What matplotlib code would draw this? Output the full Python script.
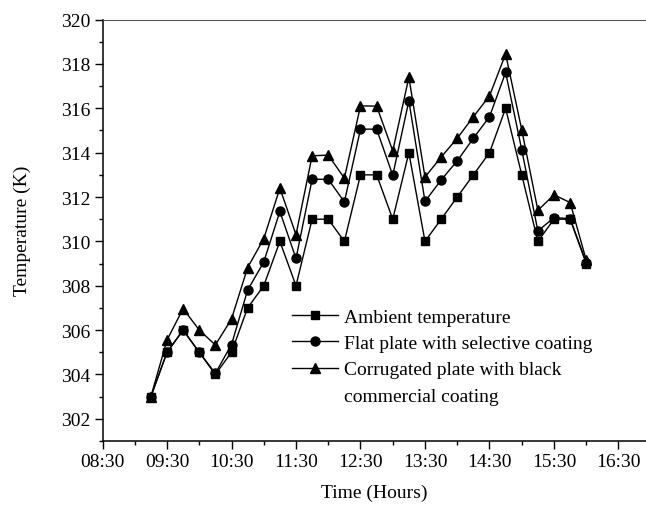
import matplotlib
matplotlib.use('Agg')
import matplotlib.pyplot as plt
from matplotlib.lines import Line2D
from matplotlib.ticker import MultipleLocator, FuncFormatter

plt.rcParams['font.family'] = ['Liberation Serif', 'DejaVu Serif']
plt.rcParams['font.size'] = 14

# time of day in hours, 09:15 -> 16:00 every 15 min
times = [9.25, 9.5, 9.75, 10.0, 10.25, 10.5, 10.75, 11.0, 11.25, 11.5, 11.75, 12.0,
         12.25, 12.5, 12.75, 13.0, 13.25, 13.5, 13.75, 14.0, 14.25, 14.5, 14.75, 15.0,
         15.25, 15.5, 15.75, 16.0]

ambient = [303, 305, 306, 305, 304, 305, 307, 308, 310, 308, 311, 311,
           310, 313, 313, 311, 314, 310, 311, 312, 313, 314, 316, 313,
           310, 311, 311, 309]

flat_selective = [303.0, 305.0, 306.0, 305.0, 304.05, 305.35, 307.8, 309.07, 311.35, 309.23, 312.8, 312.8,
                  311.78, 315.06, 315.06, 312.98, 316.34, 311.8, 312.77, 313.63, 314.65, 315.62, 317.62, 314.13,
                  310.47, 311.07, 311.03, 309.04]

corrugated_black = [303.0, 305.55, 306.97, 306.0, 305.33, 306.5, 308.82, 310.12, 312.4, 310.3, 313.86, 313.89,
                    312.85, 316.11, 316.1, 314.08, 317.4, 312.9, 313.8, 314.65, 315.62, 316.56, 318.45, 315.03,
                    311.4, 312.1, 311.75, 309.15]

labels = ['Ambient temperature', 'Flat plate with selective coating',
          'Corrugated plate with black', 'commercial coating']

W, H = 646, 510
fig = plt.figure(figsize=(W / 100, H / 100), dpi=100)
ax = fig.add_axes([102.5 / W, 1 - 442 / H, (W - 102.5) / W, (442 - 20.6) / H])

ax.plot(times, corrugated_black, color='black', lw=1.0, marker='^', ms=7.5, zorder=3)
ax.plot(times, flat_selective, color='black', lw=1.0, marker='o', ms=6.5, zorder=4)
ax.plot(times, ambient, color='black', lw=1.0, marker='s', ms=5.8, zorder=5)

ax.set_xlim(8.5, 8.5 + (W - 102.5) / 64.5)
ax.set_ylim(301, 320)

ax.xaxis.set_minor_locator(MultipleLocator(0.5))
ax.set_xticks([8.5 + i for i in range(9)])
ax.xaxis.set_major_formatter(FuncFormatter(lambda v, p: '%02d:%02d' % (int(v), round((v - int(v)) * 60))))
ax.yaxis.set_minor_locator(MultipleLocator(1))
ax.set_yticks(range(302, 321, 2))

ax.tick_params(which='major', direction='out', length=5.5, width=1.0, pad=3)
ax.tick_params(which='minor', direction='out', length=3, width=1.0)

for s in ['left', 'bottom']:
    ax.spines[s].set_linewidth(1.1)
ax.spines['top'].set_linewidth(0.8)
ax.spines['top'].set_color('#555555')
ax.spines['right'].set_visible(False)

ax.set_xlabel('Time (Hours)', labelpad=10)
ax.set_ylabel('Temperature (K)', labelpad=22)

handles = [Line2D([], [], color='black', lw=1.0, marker='s', ms=5.8),
           Line2D([], [], color='black', lw=1.0, marker='o', ms=6.5),
           Line2D([], [], color='black', lw=1.0, marker='^', ms=7.5),
           Line2D([], [], linestyle='none')]
fig.legend(handles, labels, loc='upper left', bbox_to_anchor=(291.7 / W, 1 - 309 / H),
           frameon=False, borderpad=0, borderaxespad=0, handlelength=2.4,
           handletextpad=0.3, labelspacing=0.45, fontsize=14)

fig.savefig('out.png', dpi=100)
